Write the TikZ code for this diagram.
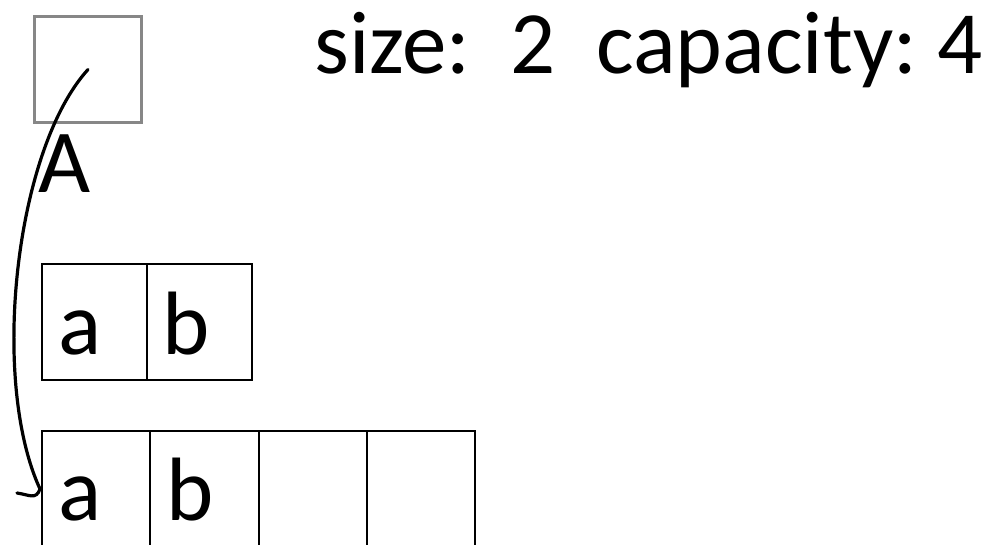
\documentclass[tikz,border=0pt]{standalone}
\usepackage{fontspec}
\setmainfont{Carlito}
\begin{document}
\begin{tikzpicture}[x=1pt,y=-1pt,
  cell/.style={draw=black,line width=1.8pt,minimum width=105pt,minimum height=116pt,inner sep=0pt,outer sep=0pt,anchor=north west},
  cellb/.style={cell,minimum width=108.3pt},
  big/.style={font=\fontsize{90}{100}\selectfont,inner sep=0pt,anchor=base west},
  ptrbox/.style={draw=black!47,line width=3pt,minimum width=107pt,minimum height=106pt,inner sep=0pt,anchor=north west},
  link/.style={line width=3.2pt,line cap=round}]
\useasboundingbox (0,0) rectangle (990,544);
\node[ptrbox] (ptr) at (33,15) {};
\node[big] (A) at (38,192) {A};
\node[big,font=\fontsize{89}{100}\selectfont] (info) at (314,73) {size:\ \ 2\ \ capacity:\ 4};
% first array
\node[cell] (r1) at (42,264) {};
\node[cell] (r2) at (147,264) {};
\node[big] (la1) at (58,354) {a};
\node[big] (lb1) at (162,354) {b};
% second array
\node[cellb] (s1) at (42,431) {};
\node[cellb] (s2) at (150.3,431) {};
\node[cellb] (s3) at (258.6,431) {};
\node[cellb] (s4) at (366.9,431) {};
\node[big] (la2) at (58,520) {a};
\node[big] (lb2) at (166,520) {b};
\coordinate (tip) at (40,489);
\coordinate (barb) at (17,493);
\draw[link] (ptr.center) .. controls (15,150) and (-10,380) .. (tip);
\draw[link] (tip) .. controls (36,500) and (30,495) .. (barb);
\end{tikzpicture}
\end{document}
